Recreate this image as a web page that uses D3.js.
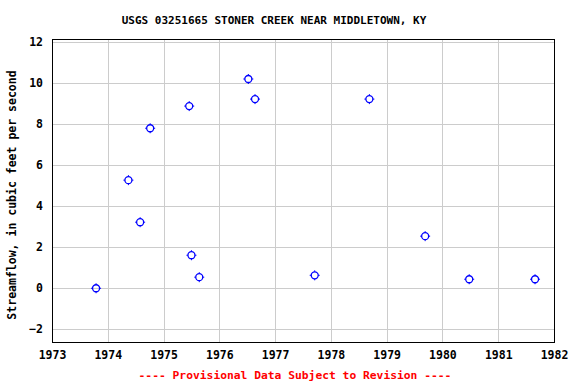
<!DOCTYPE html>
<html>
<head>
<meta charset="utf-8">
<script src="https://cdn.jsdelivr.net/npm/d3@7"></script>
<style>
  body { margin: 0; background: #fff; }
  text { font-family: "DejaVu Sans Mono", "Liberation Mono", monospace; font-weight: bold; }
</style>
</head>
<body>
<svg id="chart" width="576" height="384"></svg>
<script>
// measurement dates as decimal years, streamflow in cfs
var years = [1973.79, 1974.37, 1974.58, 1974.76, 1975.46, 1975.50, 1975.64,
             1976.52, 1976.64, 1977.71, 1978.69, 1979.69, 1980.48, 1981.66];
var flows = [0, 5.27, 3.22, 7.8, 8.88, 1.61, 0.54,
             10.2, 9.22, 0.63, 9.22, 2.54, 0.44, 0.44];
var xTicks = [1973, 1974, 1975, 1976, 1977, 1978, 1979, 1980, 1981, 1982];
var yTicks = [-2, 0, 2, 4, 6, 8, 10, 12];

var data = years.map(function(d, i){ return {x: d, y: flows[i]}; });

var svg = d3.select("#chart");
var pLeft = 52, pRight = 554, pTop = 39, pBottom = 342;

var x = d3.scaleLinear().domain([1973, 1982]).range([pLeft, pRight]);
var y = d3.scaleLinear().domain([-2.62, 12.15]).range([pBottom, pTop]);

var styleGrid = function(g){
    g.select(".domain").remove();
    g.selectAll("line").attr("stroke", "#cccccc").attr("shape-rendering", "crispEdges");
};
var styleLabels = function(g){
    g.select(".domain").remove();
    g.selectAll("text").attr("font-size", "11.5px").attr("fill", "#000")
        .style("font-family", "'DejaVu Sans Mono', monospace").style("font-weight", "bold");
};

// grid
svg.append("g")
    .attr("transform", "translate(0," + pBottom + ")")
    .call(d3.axisBottom(x).tickValues(xTicks).tickSize(-(pBottom - pTop)).tickFormat(""))
    .call(styleGrid);

svg.append("g")
    .attr("transform", "translate(" + pLeft + ",0)")
    .call(d3.axisLeft(y).tickValues(yTicks).tickSize(-(pRight - pLeft)).tickFormat(""))
    .call(styleGrid);

// frame
svg.append("rect")
    .attr("x", pLeft).attr("y", pTop)
    .attr("width", pRight - pLeft).attr("height", pBottom - pTop)
    .attr("fill", "none").attr("stroke", "#000").attr("stroke-width", 1)
    .attr("shape-rendering", "crispEdges");

// tick labels
svg.append("g")
    .attr("transform", "translate(0," + pBottom + ")")
    .call(d3.axisBottom(x).tickValues(xTicks).tickSize(0).tickPadding(9).tickFormat(d3.format("d")))
    .call(styleLabels);

svg.append("g")
    .attr("transform", "translate(" + (pLeft - 1) + ",0)")
    .call(d3.axisLeft(y).tickValues(yTicks).tickSize(0).tickPadding(8).tickFormat(d3.format("d")))
    .call(styleLabels);

// points
var pts = svg.append("g").selectAll("g")
    .data(data).enter().append("g")
    .attr("transform", function(d){ return "translate(" + x(d.x) + "," + y(d.y) + ")"; });

pts.append("circle")
    .attr("r", 3.5)
    .attr("fill", "none")
    .attr("stroke", "#0000ff")
    .attr("stroke-width", 1.3);

pts.selectAll("line")
    .data([[0, -5, 0, -3.5], [0, 3.5, 0, 5], [-5, 0, -3.5, 0], [3.5, 0, 5, 0]])
    .enter().append("line")
    .attr("x1", function(d){ return d[0]; }).attr("y1", function(d){ return d[1]; })
    .attr("x2", function(d){ return d[2]; }).attr("y2", function(d){ return d[3]; })
    .attr("stroke", "#0000ff").attr("stroke-width", 1);

// titles
svg.append("text")
    .attr("x", 274).attr("y", 24)
    .attr("text-anchor", "middle")
    .attr("font-size", "11px")
    .text("USGS 03251665 STONER CREEK NEAR MIDDLETOWN, KY");

svg.append("text")
    .attr("transform", "translate(16,195) rotate(-90)")
    .attr("text-anchor", "middle")
    .attr("font-size", "11.5px")
    .text("Streamflow, in cubic feet per second");

svg.append("text")
    .attr("x", 295).attr("y", 379)
    .attr("text-anchor", "middle")
    .attr("font-size", "11.3px")
    .attr("fill", "#ff0000")
    .text("---- Provisional Data Subject to Revision ----");
</script>
</body>
</html>
